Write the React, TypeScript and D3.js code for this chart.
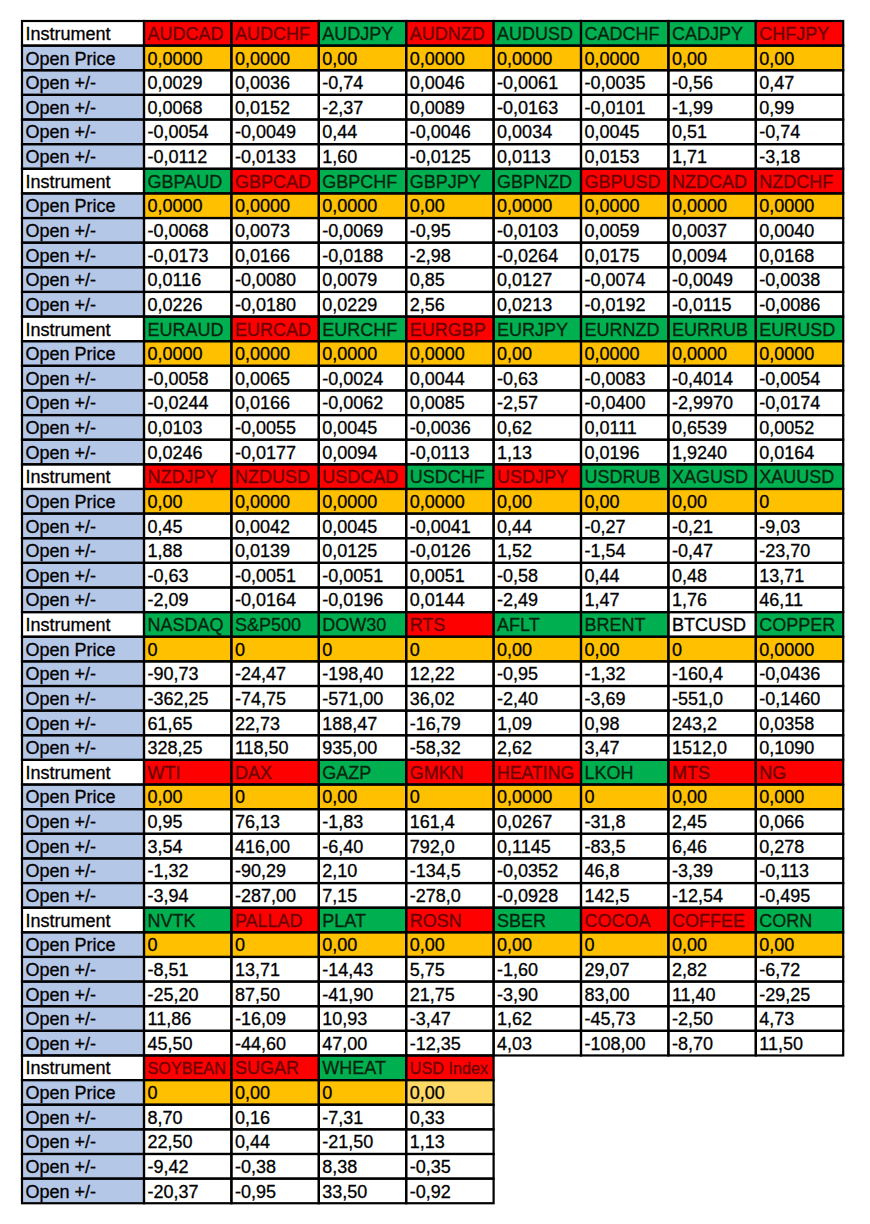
import React from "react";
import * as d3 from "d3";

// each block: 8 instruments, header signal, open price, four open +/- rows
const instruments1 = ["AUDCAD", "AUDCHF", "AUDJPY", "AUDNZD", "AUDUSD", "CADCHF", "CADJPY", "CHFJPY"];
const signals1 = ["down", "down", "up", "down", "up", "up", "up", "down"];
const open1 = ["0,0000", "0,0000", "0,00", "0,0000", "0,0000", "0,0000", "0,00", "0,00"];
const moves1 = [
  ["0,0029", "0,0036", "-0,74", "0,0046", "-0,0061", "-0,0035", "-0,56", "0,47"],
  ["0,0068", "0,0152", "-2,37", "0,0089", "-0,0163", "-0,0101", "-1,99", "0,99"],
  ["-0,0054", "-0,0049", "0,44", "-0,0046", "0,0034", "0,0045", "0,51", "-0,74"],
  ["-0,0112", "-0,0133", "1,60", "-0,0125", "0,0113", "0,0153", "1,71", "-3,18"]
];

const instruments2 = ["GBPAUD", "GBPCAD", "GBPCHF", "GBPJPY", "GBPNZD", "GBPUSD", "NZDCAD", "NZDCHF"];
const signals2 = ["up", "down", "up", "up", "up", "down", "down", "down"];
const open2 = ["0,0000", "0,0000", "0,0000", "0,00", "0,0000", "0,0000", "0,0000", "0,0000"];
const moves2 = [
  ["-0,0068", "0,0073", "-0,0069", "-0,95", "-0,0103", "0,0059", "0,0037", "0,0040"],
  ["-0,0173", "0,0166", "-0,0188", "-2,98", "-0,0264", "0,0175", "0,0094", "0,0168"],
  ["0,0116", "-0,0080", "0,0079", "0,85", "0,0127", "-0,0074", "-0,0049", "-0,0038"],
  ["0,0226", "-0,0180", "0,0229", "2,56", "0,0213", "-0,0192", "-0,0115", "-0,0086"]
];

const instruments3 = ["EURAUD", "EURCAD", "EURCHF", "EURGBP", "EURJPY", "EURNZD", "EURRUB", "EURUSD"];
const signals3 = ["up", "down", "up", "down", "up", "up", "up", "up"];
const open3 = ["0,0000", "0,0000", "0,0000", "0,0000", "0,00", "0,0000", "0,0000", "0,0000"];
const moves3 = [
  ["-0,0058", "0,0065", "-0,0024", "0,0044", "-0,63", "-0,0083", "-0,4014", "-0,0054"],
  ["-0,0244", "0,0166", "-0,0062", "0,0085", "-2,57", "-0,0400", "-2,9970", "-0,0174"],
  ["0,0103", "-0,0055", "0,0045", "-0,0036", "0,62", "0,0111", "0,6539", "0,0052"],
  ["0,0246", "-0,0177", "0,0094", "-0,0113", "1,13", "0,0196", "1,9240", "0,0164"]
];

const instruments4 = ["NZDJPY", "NZDUSD", "USDCAD", "USDCHF", "USDJPY", "USDRUB", "XAGUSD", "XAUUSD"];
const signals4 = ["down", "down", "down", "up", "down", "up", "up", "up"];
const open4 = ["0,00", "0,0000", "0,0000", "0,0000", "0,00", "0,00", "0,00", "0"];
const moves4 = [
  ["0,45", "0,0042", "0,0045", "-0,0041", "0,44", "-0,27", "-0,21", "-9,03"],
  ["1,88", "0,0139", "0,0125", "-0,0126", "1,52", "-1,54", "-0,47", "-23,70"],
  ["-0,63", "-0,0051", "-0,0051", "0,0051", "-0,58", "0,44", "0,48", "13,71"],
  ["-2,09", "-0,0164", "-0,0196", "0,0144", "-2,49", "1,47", "1,76", "46,11"]
];

const instruments5 = ["NASDAQ", "S&P500", "DOW30", "RTS", "AFLT", "BRENT", "BTCUSD", "COPPER"];
const signals5 = ["up", "up", "up", "down", "up", "up", "none", "up"];
const open5 = ["0", "0", "0", "0", "0,00", "0,00", "0", "0,0000"];
const moves5 = [
  ["-90,73", "-24,47", "-198,40", "12,22", "-0,95", "-1,32", "-160,4", "-0,0436"],
  ["-362,25", "-74,75", "-571,00", "36,02", "-2,40", "-3,69", "-551,0", "-0,1460"],
  ["61,65", "22,73", "188,47", "-16,79", "1,09", "0,98", "243,2", "0,0358"],
  ["328,25", "118,50", "935,00", "-58,32", "2,62", "3,47", "1512,0", "0,1090"]
];

const instruments6 = ["WTI", "DAX", "GAZP", "GMKN", "HEATING", "LKOH", "MTS", "NG"];
const signals6 = ["down", "down", "up", "down", "down", "up", "down", "down"];
const open6 = ["0,00", "0", "0,00", "0", "0,0000", "0", "0,00", "0,000"];
const moves6 = [
  ["0,95", "76,13", "-1,83", "161,4", "0,0267", "-31,8", "2,45", "0,066"],
  ["3,54", "416,00", "-6,40", "792,0", "0,1145", "-83,5", "6,46", "0,278"],
  ["-1,32", "-90,29", "2,10", "-134,5", "-0,0352", "46,8", "-3,39", "-0,113"],
  ["-3,94", "-287,00", "7,15", "-278,0", "-0,0928", "142,5", "-12,54", "-0,495"]
];

const instruments7 = ["NVTK", "PALLAD", "PLAT", "ROSN", "SBER", "COCOA", "COFFEE", "CORN"];
const signals7 = ["up", "down", "up", "down", "up", "down", "down", "up"];
const open7 = ["0", "0", "0,00", "0,00", "0,00", "0", "0,00", "0,00"];
const moves7 = [
  ["-8,51", "13,71", "-14,43", "5,75", "-1,60", "29,07", "2,82", "-6,72"],
  ["-25,20", "87,50", "-41,90", "21,75", "-3,90", "83,00", "11,40", "-29,25"],
  ["11,86", "-16,09", "10,93", "-3,47", "1,62", "-45,73", "-2,50", "4,73"],
  ["45,50", "-44,60", "47,00", "-12,35", "4,03", "-108,00", "-8,70", "11,50"]
];

const instruments8 = ["SOYBEAN", "SUGAR", "WHEAT", "USD Index"];
const signals8 = ["down", "down", "up", "down"];
const open8 = ["0", "0,00", "0", "0,00"];
const moves8 = [
  ["8,70", "0,16", "-7,31", "0,33"],
  ["22,50", "0,44", "-21,50", "1,13"],
  ["-9,42", "-0,38", "8,38", "-0,35"],
  ["-20,37", "-0,95", "33,50", "-0,92"]
];

const rowLabels = ["Instrument", "Open Price", "Open +/-", "Open +/-", "Open +/-", "Open +/-"];

const blocks = [
  { names: instruments1, signals: signals1, open: open1, moves: moves1 },
  { names: instruments2, signals: signals2, open: open2, moves: moves2 },
  { names: instruments3, signals: signals3, open: open3, moves: moves3 },
  { names: instruments4, signals: signals4, open: open4, moves: moves4 },
  { names: instruments5, signals: signals5, open: open5, moves: moves5 },
  { names: instruments6, signals: signals6, open: open6, moves: moves6 },
  { names: instruments7, signals: signals7, open: open7, moves: moves7 },
  { names: instruments8, signals: signals8, open: open8, moves: moves8 }
];

const headerFill = { up: "#00b050", down: "#ff0000", none: "#ffffff" };
const headerText = { up: "#06240f", down: "#6b0000", none: "#000000" };

const left = 22;
const labelRight = 144;
const colW = 87.4;
const top = 21;
const rowH = 24.63;
const fontSize = 18;

// rough Arial advance widths (per em) to shrink headers that overflow
const glyphW: Record<string, number> = {
  A: 0.667, B: 0.667, C: 0.722, D: 0.722, E: 0.667, F: 0.611, G: 0.778, H: 0.722,
  I: 0.278, J: 0.5, K: 0.667, L: 0.556, M: 0.833, N: 0.722, O: 0.778, P: 0.667,
  Q: 0.778, R: 0.722, S: 0.667, T: 0.611, U: 0.722, V: 0.667, W: 0.944, X: 0.667,
  Y: 0.667, Z: 0.611, "&": 0.667, " ": 0.278, n: 0.556, d: 0.556, e: 0.556, x: 0.5
};
const headerSize = (s: string) => {
  const em = s.split("").reduce((a, ch) => a + (glyphW[ch] ?? 0.556), 0);
  const avail = colW - 9;
  return Math.min(fontSize, avail / em);
};

export default function App() {
  const x = d3.scaleLinear().domain([0, 8]).range([labelRight, labelRight + 8 * colW]);
  const y = d3.scaleLinear().domain([0, 48]).range([top, top + 48 * rowH]);

  const cells: any[] = [];
  blocks.forEach((b, bi) => {
    const r0 = bi * 6;
    rowLabels.forEach((lab, ri) => {
      cells.push({
        key: `l${bi}-${ri}`,
        x0: left,
        x1: labelRight,
        r: r0 + ri,
        fill: ri === 0 ? "#ffffff" : "#b4c7e7",
        text: lab,
        color: "#000",
        size: fontSize
      });
    });
    b.names.forEach((name, ci) => {
      const sig = b.signals[ci];
      cells.push({
        key: `h${bi}-${ci}`,
        x0: x(ci),
        x1: x(ci + 1),
        r: r0,
        fill: headerFill[sig],
        text: name,
        color: headerText[sig],
        size: headerSize(name)
      });
      cells.push({
        key: `o${bi}-${ci}`,
        x0: x(ci),
        x1: x(ci + 1),
        r: r0 + 1,
        fill: name === "USD Index" ? "#ffd966" : "#ffc000",
        text: b.open[ci],
        color: "#000",
        size: fontSize
      });
      b.moves.forEach((row, mi) => {
        cells.push({
          key: `m${bi}-${ci}-${mi}`,
          x0: x(ci),
          x1: x(ci + 1),
          r: r0 + 2 + mi,
          fill: "#ffffff",
          text: row[ci],
          color: "#000",
          size: fontSize
        });
      });
    });
  });

  return (
    <svg
      width={870}
      height={1224}
      style={{ position: "absolute", left: 0, top: 0, background: "#fff" }}
      fontFamily="'Liberation Sans', Arial, sans-serif"
    >
      <g>
        {cells.map((c) => (
          <rect
            key={c.key + "r"}
            x={c.x0}
            y={y(c.r)}
            width={c.x1 - c.x0}
            height={y(c.r + 1) - y(c.r)}
            fill={c.fill}
          />
        ))}
      </g>
      <g>
        {cells.map((c) => (
          <rect
            key={c.key + "b"}
            x={c.x0}
            y={y(c.r)}
            width={c.x1 - c.x0}
            height={y(c.r + 1) - y(c.r)}
            fill="none"
            stroke="#000"
            strokeWidth={2.2}
          />
        ))}
      </g>
      <g>
        {cells.map((c) => (
          <text
            key={c.key + "t"}
            x={c.x0 + 3.5}
            y={y(c.r) + rowH * 0.77}
            fill={c.color}
            stroke={c.color}
            strokeWidth={0.3}
            fontSize={c.size}
          >
            {c.text}
          </text>
        ))}
      </g>
    </svg>
  );
}
